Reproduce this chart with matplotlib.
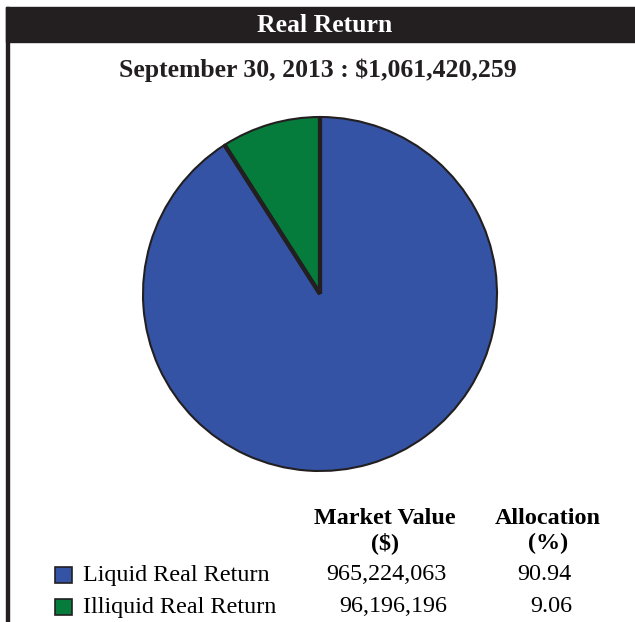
import matplotlib
matplotlib.use("Agg")
import matplotlib.pyplot as plt
import numpy as np

title = "Real Return"
subtitle = "September 30, 2013 : $1,061,420,259"
categories = ["Liquid Real Return", "Illiquid Real Return"]
market_values = [965224063, 96196196]
market_labels = ["965,224,063", "96,196,196"]
allocations = ["90.94", "9.06"]
colors = ["#3453a4", "#067c3c"]

plt.rcParams['font.family'] = ['Liberation Serif', 'DejaVu Serif']

W, H = 635, 622
fig = plt.figure(figsize=(W/100, H/100), dpi=100)

def fx(x): return x / W
def fy(y): return 1 - y / H

ink = "#231f20"
# header bar and left border
fig.patches.append(plt.Rectangle((fx(6), fy(42)), fx(635) - fx(6), fy(7) - fy(42),
                                 transform=fig.transFigure, color=ink, zorder=0))
fig.patches.append(plt.Rectangle((fx(6), 0), fx(3), fy(7),
                                 transform=fig.transFigure, color=ink, zorder=0))
fig.text(fx(325), fy(25), title, color="white", fontsize=18.5, fontweight="bold",
         ha="center", va="center")
fig.text(fx(318), fy(70), subtitle, color=ink, fontsize=18.5, fontweight="bold",
         ha="center", va="center")

# pie
cx, cy, r = 320, 294, 177
m = 182
ax = fig.add_axes([fx(cx - m), fy(cy + m), 2*m/W, 2*m/H])
wedges, _ = ax.pie(market_values, colors=colors, startangle=90, counterclock=False,
                   radius=1, wedgeprops=dict(edgecolor=ink, linewidth=1.5))
# thick radial dividers
for w in wedges:
    for ang in (w.theta1, w.theta2):
        a = np.deg2rad(ang)
        ax.plot([0, np.cos(a)], [0, np.sin(a)], color=ink, lw=3, solid_capstyle="butt")
lim = m / r
ax.set_xlim(-lim, lim)
ax.set_ylim(-lim, lim)
ax.set_aspect("equal")
ax.axis("off")

# table
fs = 17.4
fig.text(fx(385), fy(518), "Market Value", fontsize=fs, fontweight="bold", ha="center", va="center")
fig.text(fx(385), fy(543), "($)", fontsize=fs, fontweight="bold", ha="center", va="center")
fig.text(fx(548), fy(518), "Allocation", fontsize=fs, fontweight="bold", ha="center", va="center")
fig.text(fx(548), fy(543), "(%)", fontsize=fs, fontweight="bold", ha="center", va="center")
row_y = [575, 607]
for i, cat in enumerate(categories):
    y = row_y[i]
    fig.patches.append(plt.Rectangle((fx(55), fy(y + 8)), 17/W, 16/H, transform=fig.transFigure,
                                     facecolor=colors[i], edgecolor=ink, lw=1.2))
    fig.text(fx(83), fy(y), cat, fontsize=fs, ha="left", va="center")
    fig.text(fx(447), fy(y), market_labels[i], fontsize=fs, ha="right", va="center")
    fig.text(fx(572), fy(y), allocations[i], fontsize=fs, ha="right", va="center")

fig.savefig("out.png", dpi=100)
